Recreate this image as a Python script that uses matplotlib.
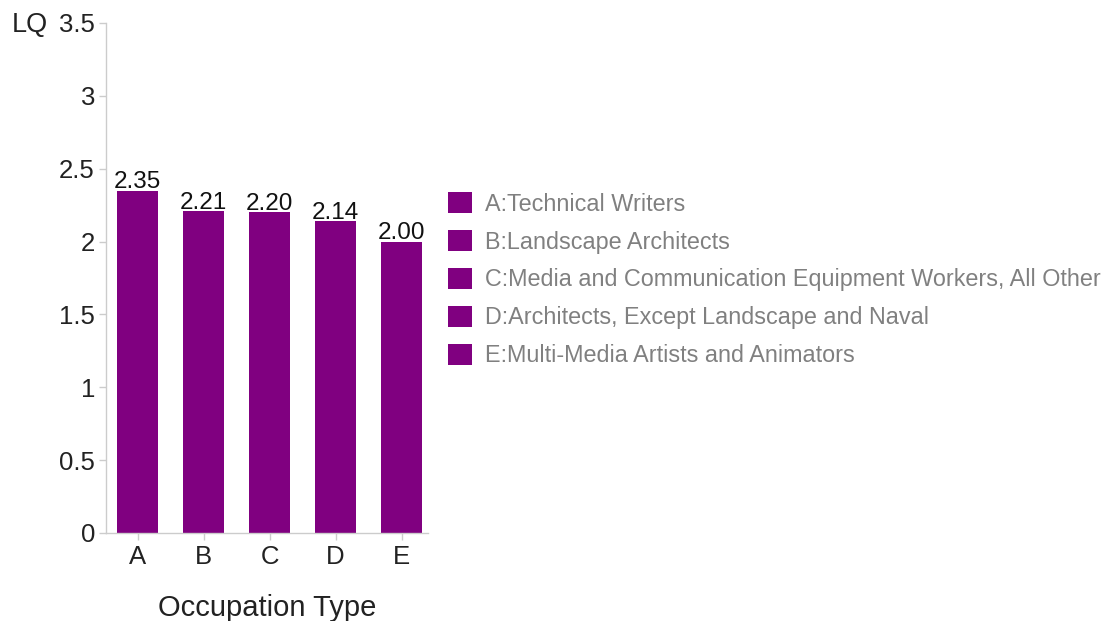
import matplotlib
matplotlib.use("Agg")
import matplotlib.pyplot as plt
from matplotlib.patches import Patch

plt.rcParams['font.family'] = ['Liberation Sans', 'DejaVu Sans']

categories = ["A", "B", "C", "D", "E"]
values = [2.35, 2.21, 2.20, 2.14, 2.00]
legend_labels = [
    "A:Technical Writers",
    "B:Landscape Architects",
    "C:Media and Communication Equipment Workers, All Other",
    "D:Architects, Except Landscape and Naval",
    "E:Multi-Media Artists and Animators",
]
bar_color = "#800080"
W, H = 1103, 621

fig = plt.figure(figsize=(W / 100, H / 100), dpi=100)
ax = fig.add_axes([106 / W, (H - 533) / H, (428 - 106) / W, (533 - 23) / H])

x = list(range(len(categories)))
bars = ax.bar(x, values, width=0.62, color=bar_color)
for xi, v in zip(x, values):
    ax.annotate(f"{v:.2f}", (xi, v), xytext=(0, -2), textcoords="offset points",
                ha="center", va="bottom", fontsize=17.5, color="#111111")

ax.set_xlim(-0.48, 4.4)
ax.set_ylim(0, 3.5)
ax.set_xticks(x)
ax.set_xticklabels(categories)
ax.set_yticks([0, 0.5, 1, 1.5, 2, 2.5, 3, 3.5])
ax.set_yticklabels(["0", "0.5", "1", "1.5", "2", "2.5", "3", "3.5"])
for s in ["top", "right"]:
    ax.spines[s].set_visible(False)
for s in ["left", "bottom"]:
    ax.spines[s].set_color("#cccccc")
    ax.spines[s].set_linewidth(1)
ax.tick_params(axis="both", colors="#cccccc", labelcolor="#222222", labelsize=18.5, length=5, width=1)
ax.tick_params(axis="y", pad=3)
ax.tick_params(axis="x", pad=4)
ax.set_xlabel("Occupation Type", fontsize=21, color="#222222", labelpad=18)

fig.text(48 / W, 1 - 25 / H, "LQ", fontsize=19.5, color="#222222", ha="right", va="center")

handles = [Patch(facecolor=bar_color, edgecolor="none") for _ in legend_labels]
leg = fig.legend(handles, legend_labels, loc="upper left", bbox_to_anchor=(448 / W, 1 - 192 / H),
                 frameon=False, fontsize=16.8, handlelength=1.03, handleheight=1.03,
                 handletextpad=0.56, labelspacing=0.61, borderpad=0, borderaxespad=0)
for t in leg.get_texts():
    t.set_color("#808080")

fig.savefig("out.png", dpi=100)
